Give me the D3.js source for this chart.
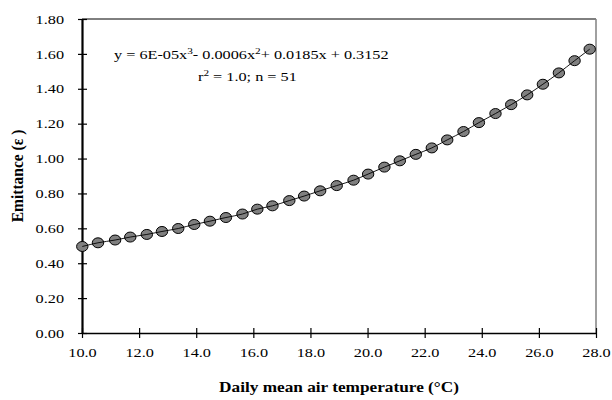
<!DOCTYPE html>
<meta charset="utf-8">
<script src="https://d3js.org/d3.v7.min.js"></script>
<style>
  body { margin: 0; background: #fff; }
  text { font-family: "Liberation Serif", "Times New Roman", serif; }
</style>
<div id="my_dataviz"></div>
<script>

    // daily mean air temperature (°C) and emittance
    var temps = [10.01, 10.56, 11.16, 11.69, 12.27, 12.80, 13.37, 13.93, 14.48, 15.04, 15.62,
                 16.14, 16.67, 17.26, 17.78, 18.34, 18.92, 19.51, 20.02, 20.59, 21.13, 21.69,
                 22.25, 22.79, 23.36, 23.90, 24.48, 25.03, 25.59, 26.14, 26.70, 27.25, 27.78];
    var emittance = [0.496, 0.517, 0.533, 0.550, 0.565, 0.582, 0.599, 0.622, 0.641, 0.662, 0.682,
                     0.710, 0.729, 0.759, 0.785, 0.815, 0.845, 0.876, 0.911, 0.951, 0.987, 1.024,
                     1.061, 1.107, 1.155, 1.206, 1.258, 1.309, 1.365, 1.426, 1.491, 1.561, 1.627];
    var xTicks = [10, 12, 14, 16, 18, 20, 22, 24, 26, 28];
    var yTicks = [0, 0.2, 0.4, 0.6, 0.8, 1.0, 1.2, 1.4, 1.6, 1.8];

    var data = temps.map(function(t, i) { return {t: t, e: emittance[i]}; });

    var sx = 1.25; // the picture is stretched sideways
    var fs = 13;

    var margin = {top: 19, right: 16, bottom: 67, left: 82},
        width = 612 - margin.left - margin.right,
        height = 400 - margin.top - margin.bottom;

    var svg = d3.select("#my_dataviz")
        .append("svg")
        .attr("width", 612)
        .attr("height", 400)
        .append("g")
        .attr("transform", "translate(" + margin.left + "," + margin.top + ")");

    var x = d3.scaleLinear().domain([10, 28]).range([0, width]);
    var y = d3.scaleLinear().domain([0, 1.8]).range([height, 0]);

    // frame top and right
    svg.append("line")
        .attr("x1", 0).attr("x2", width).attr("y1", 0).attr("y2", 0)
        .attr("stroke", "#000").attr("stroke-width", 1);
    svg.append("line")
        .attr("x1", width).attr("x2", width).attr("y1", 0).attr("y2", height)
        .attr("stroke", "#808080").attr("stroke-width", 1.5);

    // X axis
    var gx = svg.append("g")
        .attr("transform", "translate(0," + height + ")")
        .call(d3.axisBottom(x).tickValues(xTicks).tickFormat(d3.format(".1f")).tickSizeOuter(0));
    gx.select(".domain").attr("stroke-width", 1.5);
    gx.selectAll(".tick line").attr("y1", -5).attr("y2", 5).attr("stroke-width", 1.2);
    gx.selectAll(".tick text")
        .attr("y", 15)
        .attr("font-size", fs)
        .attr("font-family", "Liberation Serif")
        .attr("fill", "#000")
        .attr("transform", "scale(" + sx + ",1)");

    // Y axis
    var gy = svg.append("g")
        .call(d3.axisLeft(y).tickValues(yTicks).tickFormat(d3.format(".2f")).tickSizeOuter(0));
    gy.select(".domain").attr("stroke-width", 2.2);
    gy.selectAll(".tick line").attr("x1", -4).attr("x2", 5).attr("stroke-width", 1.2);
    gy.selectAll(".tick text")
        .attr("x", -18 / sx)
        .attr("font-size", fs)
        .attr("font-family", "Liberation Serif")
        .attr("fill", "#000")
        .attr("transform", "scale(" + sx + ",1)");

    // line through the points
    var line = d3.line()
        .x(function(d) { return x(d.t); })
        .y(function(d) { return y(d.e); })
        .curve(d3.curveMonotoneX);

    svg.selectAll("ellipse")
        .data(data)
        .enter()
        .append("ellipse")
        .attr("cx", function(d) { return x(d.t); })
        .attr("cy", function(d) { return y(d.e); })
        .attr("rx", 5.7)
        .attr("ry", 5)
        .attr("fill", "#808080")
        .attr("stroke", "#000")
        .attr("stroke-width", 1);

    // line on top of markers, like the reference
    svg.append("path")
        .datum(data)
        .attr("d", line)
        .attr("fill", "none")
        .attr("stroke", "#000")
        .attr("stroke-width", 0.9);

    var root = d3.select("svg");

    function label(px, py, extra) {
        return root.append("text")
            .attr("transform", "translate(" + px + "," + py + ") " + (extra || "scale(" + sx + ",1)"))
            .attr("font-size", fs)
            .attr("fill", "#000");
    }

    // equation
    var eq = label(114, 58.5);
    eq.append("tspan").text("y = 6E-05x");
    eq.append("tspan").attr("font-size", 9).attr("dy", -5).text("3");
    eq.append("tspan").attr("dy", 5).text("- 0.0006x");
    eq.append("tspan").attr("font-size", 9).attr("dy", -5).text("2");
    eq.append("tspan").attr("dy", 5).text("+ 0.0185x + 0.3152");

    var r2 = label(198, 81);
    r2.append("tspan").text("r");
    r2.append("tspan").attr("font-size", 9).attr("dy", -5).text("2");
    r2.append("tspan").attr("dy", 5).text(" = 1.0; n = 51");

    // axis titles
    label(margin.left + width / 2, 392)
        .attr("text-anchor", "middle")
        .attr("font-weight", "bold")
        .attr("font-size", 13.8)
        .text("Daily mean air temperature (°C)");

    label(23, margin.top + height / 2, "rotate(-90) scale(1,1.05)")
        .attr("text-anchor", "middle")
        .attr("font-weight", "bold")
        .attr("font-size", 15.5)
        .text("Emittance (ε )");

</script>
